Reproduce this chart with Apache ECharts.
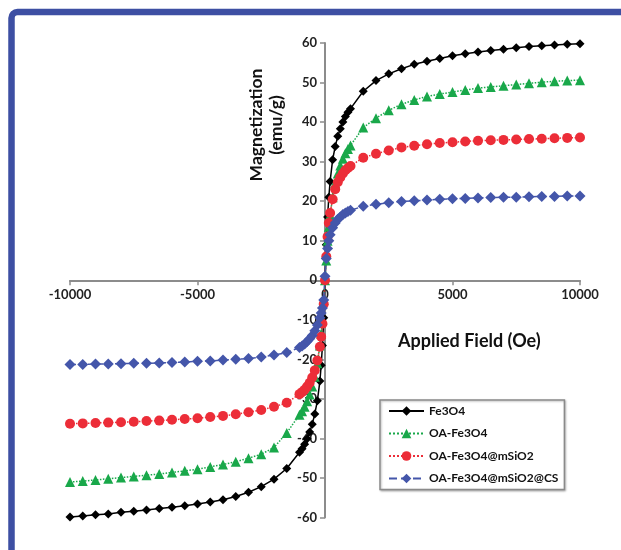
<!DOCTYPE html>
<html>
<head>
<meta charset="utf-8">
<script src="https://cdn.jsdelivr.net/npm/echarts@6/dist/echarts.min.js"></script>
<style>html,body{margin:0;padding:0;background:#fff;}#c{width:621px;height:550px;}</style>
</head>
<body>
<div id="c"></div>
<script>
// Applied field (Oe)
const fieldOe = [-10000,-9500,-9000,-8500,-8000,-7500,-7000,-6500,-6000,-5500,-5000,-4500,-4000,-3500,-3000,-2500,-2000,-1500,
  -1000,-900,-800,-700,-600,-500,-400,-300,-200,-150,-100,-50,0,50,100,150,200,300,400,500,600,700,800,900,1000,
  1500,2000,2500,3000,3500,4000,4500,5000,5500,6000,6500,7000,7500,8000,8500,9000,9500,10000];
const fe3o4 = [-59.9,-59.6,-59.3,-59.1,-58.7,-58.4,-58.1,-57.7,-57.4,-57.0,-56.6,-56.1,-55.5,-54.7,-53.6,-52.2,-50.3,-47.6,
  -43.5,-42.6,-41.5,-40.1,-38.4,-36.4,-33.8,-30.5,-25.5,-21.5,-16.5,-9.5,0,9,16,21,25,30.5,33.8,36.4,38.3,40.0,41.4,42.5,43.4,
  47.8,50.5,52.2,53.5,54.6,55.4,56.1,56.8,57.3,57.7,58.1,58.4,58.8,59.1,59.3,59.5,59.7,59.8];
const oaFe3o4 = [-51.0,-50.8,-50.5,-50.2,-49.9,-49.6,-49.3,-49.0,-48.6,-48.2,-47.8,-47.2,-46.6,-45.9,-45.0,-44.0,-42.3,-38.6,
  -34.0,-33.1,-32.0,-30.6,-28.9,-26.9,-24.4,-21.0,-16.5,-13.5,-10,-5,0,5,10,13.5,16.5,21,24.5,27,29,30.7,32.1,33.2,34.1,
  38.6,41.0,43.0,44.5,45.6,46.5,47.1,47.6,48.1,48.6,48.9,49.2,49.5,49.8,50.1,50.3,50.5,50.6];
const oaMSiO2 = [-36.3,-36.2,-36.1,-36.0,-35.9,-35.8,-35.6,-35.5,-35.3,-35.1,-34.9,-34.6,-34.3,-33.9,-33.4,-32.8,-32.0,-31.0,
  -28.8,-28.3,-27.7,-26.9,-25.9,-24.6,-22.8,-20.3,-16.8,-14.3,-11,-6,0,6,11,14.5,17,20.5,23,24.8,26.0,27.0,27.8,28.4,28.9,
  31.0,32.0,32.8,33.6,34.0,34.4,34.7,34.9,35.1,35.3,35.4,35.5,35.6,35.7,35.8,35.9,36.0,36.1];
const oaMSiO2CS = [-21.3,-21.3,-21.2,-21.2,-21.1,-21.0,-21.0,-20.9,-20.8,-20.7,-20.5,-20.4,-20.2,-20.0,-19.8,-19.4,-18.9,-18.3,
  -17.0,-16.6,-16.1,-15.5,-14.8,-14.0,-12.8,-11.3,-9.5,-8.3,-7,-5,1,5.5,8,10,11.5,13.3,14.5,15.4,16.0,16.6,17.0,17.4,17.7,
  18.7,19.2,19.6,19.9,20.1,20.3,20.5,20.6,20.7,20.8,20.9,21.0,21.0,21.1,21.2,21.2,21.3,21.3];
const seriesNames = ['Fe3O4','OA-Fe3O4','OA-Fe3O4@mSiO2','OA-Fe3O4@mSiO2@CS'];
const xTicks = [-10000,-5000,0,5000,10000];
const yTicks = [-60,-50,-40,-30,-20,-10,0,10,20,30,40,50,60];

const pair = ys => fieldOe.map((x,i)=>[x,ys[i]]);
const FONT = 'Lato, "Open Sans", sans-serif';
const chart = echarts.init(document.getElementById('c'));
const axisCol = '#8c8c8c';
const G = {left:70,right:41,top:43,bottom:32.5};
const plotH = 550 - G.top - G.bottom, plotW = 621 - G.left - G.right;
chart.setOption({
  animation:false,
  backgroundColor:'#fff',
  grid:G,
  xAxis:{type:'value',min:xTicks[0],max:xTicks[xTicks.length-1],interval:5000,
    offset:-plotH/2,
    axisLine:{onZero:false,lineStyle:{color:axisCol,width:2}},
    axisTick:{show:true,length:5,lineStyle:{color:axisCol,width:1.5}},
    axisLabel:{fontFamily:FONT,fontWeight:'bold',fontSize:13,color:'#222',margin:8,formatter:v=>String(v)},
    splitLine:{show:false}},
  yAxis:{type:'value',min:yTicks[0],max:yTicks[yTicks.length-1],interval:10,
    offset:-plotW/2,
    axisLine:{onZero:false,lineStyle:{color:axisCol,width:2}},
    axisTick:{show:true,length:5,lineStyle:{color:axisCol,width:1.5}},
    axisLabel:{fontFamily:FONT,fontWeight:'bold',fontSize:13,color:'#222',margin:8,formatter:v=>String(v)},
    splitLine:{show:false}},
  legend:{orient:'vertical',left:380,top:400,padding:[5,6,5,8],itemGap:10.5,itemWidth:35,itemHeight:12,
    borderColor:'#8a8a8a',borderWidth:1.5,backgroundColor:'#fff',
    shadowColor:'rgba(0,0,0,0.25)',shadowBlur:2,shadowOffsetX:1,shadowOffsetY:1,
    textStyle:{fontFamily:FONT,fontWeight:'bold',fontSize:12,color:'#111'},
    data:seriesNames},
  graphic:[
    {type:'rect',shape:{x:11.5,y:12,width:700,height:700,r:6},style:{fill:'none',stroke:'#3d4fa3',lineWidth:6.5},silent:true,z:100},
    {type:'text',left:398,top:332,style:{text:'Applied Field (Oe)',font:'bold 18px '+FONT,fill:'#111'}},
    {type:'text',x:256,y:125,rotation:Math.PI/2,style:{text:'Magnetization',font:'bold 17.5px '+FONT,fill:'#111',align:'center',verticalAlign:'middle'}},
    {type:'text',x:276,y:125,rotation:Math.PI/2,style:{text:'(emu/g)',font:'bold 17.5px '+FONT,fill:'#111',align:'center',verticalAlign:'middle'}}
  ],
  series:[
    {name:seriesNames[0],type:'line',data:pair(fe3o4),symbol:'diamond',symbolSize:9,color:'#000',
      lineStyle:{color:'#000',width:1.5,type:'solid'},itemStyle:{color:'#000'}},
    {name:seriesNames[1],type:'line',data:pair(oaFe3o4),symbol:'triangle',symbolSize:10,color:'#19a84a',
      lineStyle:{color:'#19a84a',width:1.5,type:'dotted'},itemStyle:{color:'#19a84a'}},
    {name:seriesNames[2],type:'line',data:pair(oaMSiO2),symbol:'circle',symbolSize:10,color:'#ec2d38',
      lineStyle:{color:'#ec2d38',width:1.5,type:'dotted'},itemStyle:{color:'#ec2d38'}},
    {name:seriesNames[3],type:'line',data:pair(oaMSiO2CS),symbol:'diamond',symbolSize:11,color:'#4456aa',
      lineStyle:{color:'#4456aa',width:1.5,type:'dashed'},itemStyle:{color:'#4456aa'}}
  ]
});
</script>
</body>
</html>
